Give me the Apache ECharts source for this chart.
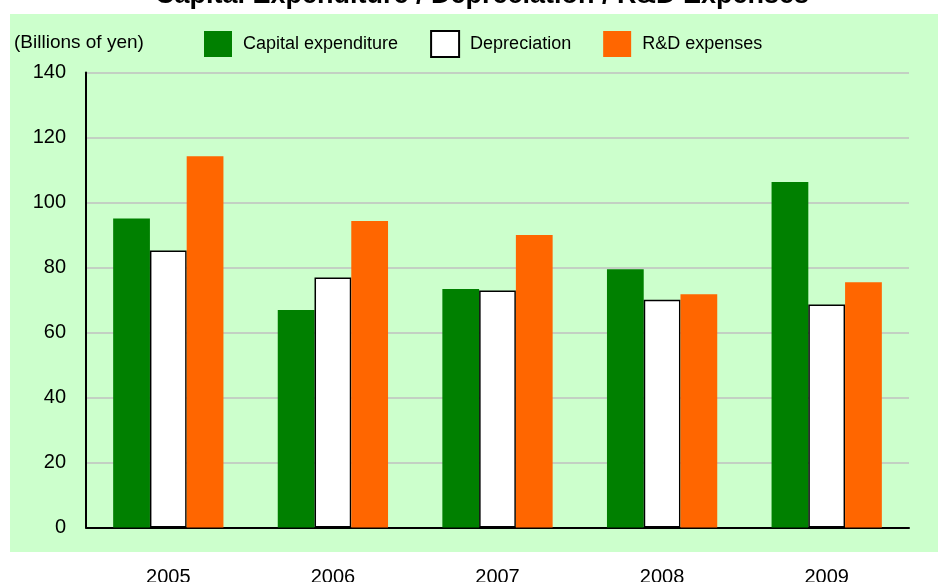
<!DOCTYPE html>
<html>
<head>
    <meta charset="utf-8"/>
    <title>ECharts</title>
    <script src="https://cdn.jsdelivr.net/npm/echarts@6/dist/echarts.min.js"></script>
</head>
<body style="margin:0; background:#fff">
<div id="main" style="width: 938px; height: 582px"></div>
<script type="text/javascript">
    // data
    var years = ['2005', '2006', '2007', '2008', '2009'];
    var capex = [95.1, 66.9, 73.4, 79.5, 106.3];
    var depreciation = [85.2, 76.9, 72.9, 70.1, 68.6];
    var rnd = [114.2, 94.3, 90.0, 71.8, 75.5];
    var yTicks = [0, 20, 40, 60, 80, 100, 120, 140];

    var myChart = echarts.init(document.getElementById("main"));
    var font = 'Liberation Sans, Arial, sans-serif';

    var option = {
        animation: false,
        textStyle: { fontFamily: font },
        title: {
            text: 'Capital Expenditure / Depreciation / R&D Expenses',
            left: 477,
            textAlign: 'center',
            top: -23,
            textStyle: { fontSize: 27, fontWeight: 'bold', color: '#000', fontFamily: font }
        },
        graphic: [
            {
                type: 'rect',
                z: -10,
                silent: true,
                shape: { x: 10, y: 14, width: 928, height: 538 },
                style: { fill: '#CCFFCC' }
            },
            {
                type: 'text',
                left: 14,
                top: 33,
                style: { text: '(Billions of yen)', fill: '#000', font: '19px ' + font }
            }
        ],
        legend: {
            left: 199,
            top: 25,
            itemWidth: 28,
            itemHeight: 26,
            itemGap: 32,
            icon: 'rect',
            textStyle: { fontSize: 18, color: '#000', padding: [0, 0, 0, 6] },
            data: ['Capital expenditure', 'Depreciation', 'R&D expenses']
        },
        grid: {
            left: 86,
            right: 29,
            top: 72.5,
            bottom: 54.5,
            outerBoundsMode: 'none'
        },
        xAxis: {
            type: 'category',
            data: years,
            axisLine: { lineStyle: { color: '#000', width: 2 } },
            axisTick: { show: false },
            axisLabel: { color: '#000', fontSize: 20, margin: 40 }
        },
        yAxis: {
            type: 'value',
            min: yTicks[0],
            max: yTicks[yTicks.length - 1],
            interval: 20,
            axisLine: { show: true, lineStyle: { color: '#000', width: 2 } },
            axisTick: { show: false },
            axisLabel: { color: '#000', fontSize: 20, margin: 20 },
            splitLine: { lineStyle: { color: '#C0C0C0', width: 1.5 } }
        },
        series: [
            {
                name: 'Capital expenditure',
                type: 'bar',
                barGap: '0%',
                barCategoryGap: '33%',
                itemStyle: { color: '#008000' },
                data: capex
            },
            {
                name: 'Depreciation',
                type: 'bar',
                barGap: '0%',
                barCategoryGap: '33%',
                itemStyle: { color: '#FFFFFF', borderColor: '#000', borderWidth: 1.5 },
                data: depreciation
            },
            {
                name: 'R&D expenses',
                type: 'bar',
                barGap: '0%',
                barCategoryGap: '33%',
                itemStyle: { color: '#FF6600' },
                data: rnd
            }
        ]
    };

    myChart.setOption(option);
</script>
</body>
</html>
